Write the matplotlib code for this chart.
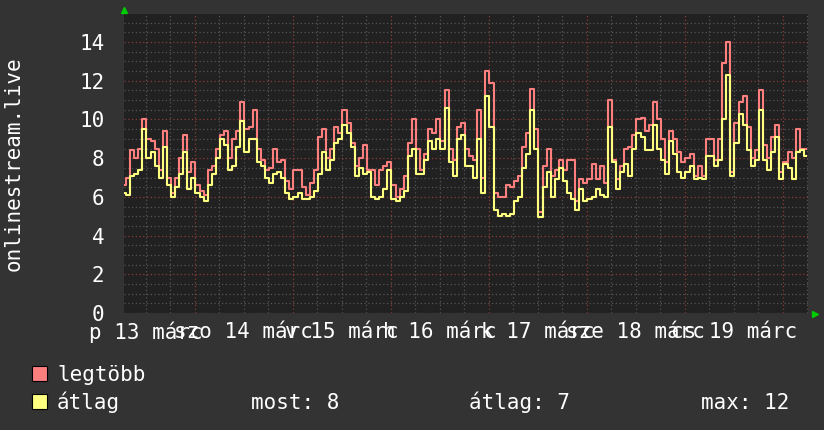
import numpy as np
import matplotlib
matplotlib.use("Agg")
import matplotlib.pyplot as plt
from matplotlib.patches import Rectangle
from matplotlib.ticker import MultipleLocator, FixedLocator

# hourly samples; time axis in days after 13 Mar 00:00
start_day = 0.278
legtobb = [6.6, 7.0, 8.4, 8.0, 8.5, 10.0, 9.0, 8.9, 8.5, 7.4, 9.4, 7.0, 6.2, 7.0, 8.0, 9.2,
           7.3, 7.8, 6.6, 6.3, 6.1, 7.4, 7.6, 8.5, 9.2, 9.4, 8.0, 9.0, 9.4, 10.9, 9.5, 9.6,
           10.5, 8.5, 7.9, 7.4, 7.5, 8.5, 7.8, 7.9, 6.8, 6.4, 7.4, 7.4, 6.5, 6.1, 6.7, 7.4,
           9.1, 9.5, 8.0, 8.5, 9.6, 9.3, 10.5, 9.8, 8.8, 7.6, 8.0, 8.7, 7.4, 7.4, 6.6, 7.4,
           7.6, 7.8, 6.6, 6.0, 6.4, 7.1, 8.8, 10.0, 8.5, 7.4, 8.2, 9.5, 9.3, 10.0, 8.9, 11.5,
           8.5, 7.9, 9.6, 9.8, 8.5, 8.1, 7.9, 10.5, 7.0, 12.5, 11.9, 6.2, 6.0, 6.0, 6.6, 6.5,
           6.8, 7.1, 8.6, 9.3, 11.6, 9.5, 5.2, 7.6, 8.5, 7.1, 7.4, 7.9, 7.4, 7.9, 7.9, 5.8,
           6.9, 6.7, 6.9, 7.7, 6.9, 7.6, 6.7, 11.0, 7.9, 6.9, 7.6, 8.5, 8.6, 9.2, 10.0, 10.1,
           9.4, 9.7, 10.9, 10.0, 9.0, 7.8, 9.4, 9.0, 8.3, 7.8, 8.0, 8.2, 7.1, 7.6, 7.1, 9.0,
           9.0, 7.9, 9.0, 12.9, 14.0, 7.3, 9.8, 10.9, 11.2, 9.6, 8.0, 8.4, 11.5, 8.7, 8.0, 9.1,
           9.7, 7.3, 7.8, 8.3, 8.0, 9.5, 8.5, 8.5]
atlag = [6.2, 6.1, 7.1, 7.2, 7.4, 9.5, 8.0, 8.3, 7.6, 7.0, 8.6, 6.6, 6.0, 6.5, 7.2, 8.3,
         6.4, 7.0, 6.2, 6.0, 5.8, 6.6, 7.2, 8.0, 9.0, 8.7, 7.4, 7.6, 8.6, 9.9, 8.3, 9.0,
         9.0, 7.8, 7.6, 7.0, 6.7, 7.2, 7.3, 7.0, 6.2, 5.9, 6.0, 6.2, 5.9, 5.9, 6.0, 6.3,
         7.2, 8.3, 7.4, 7.9, 8.8, 9.0, 9.7, 9.3, 8.6, 7.1, 7.5, 7.2, 7.3, 6.0, 5.9, 6.0,
         6.4, 7.4, 5.9, 5.8, 6.0, 6.3, 8.1, 8.5, 7.2, 7.2, 7.9, 8.9, 8.5, 9.0, 8.5, 10.6,
         7.8, 7.1, 9.0, 9.2, 7.6, 7.6, 7.0, 9.0, 6.2, 11.2, 9.6, 5.3, 5.0, 5.1, 5.0, 5.1,
         5.8, 6.0, 7.5, 8.2, 10.5, 8.5, 4.95, 6.5, 7.3, 6.0, 6.9, 7.5, 6.8, 6.2, 5.9, 5.3,
         6.4, 5.8, 5.9, 6.0, 6.4, 6.1, 6.0, 9.6, 7.8, 6.4, 7.3, 7.7, 7.1, 8.5, 9.3, 9.1,
         8.4, 8.4, 9.7, 8.5, 7.9, 7.2, 8.9, 8.2, 7.3, 7.0, 7.3, 7.6, 6.9, 7.0, 6.9, 8.1,
         8.1, 7.6, 7.9, 10.0, 12.3, 7.1, 8.8, 10.3, 9.7, 8.4, 7.6, 7.9, 10.5, 7.9, 7.4, 8.3,
         9.1, 6.9, 7.7, 7.5, 6.9, 8.3, 8.4, 8.1]
day_labels = ["p 13 márc", "szo 14 márc", "v 15 márc", "h 16 márc",
              "k 17 márc", "sze 18 márc", "cs 19 márc"]
summary = ["most: 8", "átlag: 7", "max: 12"]

BACK = "#333333"
CANVAS = "#212121"
RED = "#ff7f7f"
YEL = "#ffff80"
FONT = "DejaVu Sans Mono"

t = start_day + np.arange(len(legtobb)) / 24.0

fig = plt.figure(figsize=(8.24, 4.30), dpi=100, facecolor=BACK)
ax = fig.add_axes([124 / 824, 117 / 430, 684 / 824, 299 / 430], facecolor=CANVAS)

ax.plot(t, legtobb, drawstyle="steps-mid", color=RED, lw=1.5, zorder=3)
ax.plot(t, atlag, drawstyle="steps-mid", color=YEL, lw=1.5, zorder=4)

ax.set_xlim(start_day, t[-1] + 1 / 48.0)
ax.set_ylim(0, 15.45)

# grid like rrdtool: grey minor, red major
ax.yaxis.set_major_locator(MultipleLocator(2))
ax.yaxis.set_minor_locator(MultipleLocator(0.5))
ax.xaxis.set_major_locator(FixedLocator(np.arange(1, 8)))
ax.xaxis.set_minor_locator(MultipleLocator(0.25))
ax.grid(which="minor", color="#555555", lw=0.9, ls=(0, (1, 2)), zorder=1)
ax.grid(which="major", color="#8a3c3c", lw=0.9, ls=(0, (1, 2)), zorder=2)
ax.tick_params(which="both", length=0)
ax.set_xticklabels([])
for s in ax.spines.values():
    s.set_visible(False)

ax.set_yticks(np.arange(0, 15, 2))
ax.set_yticklabels([str(v) for v in range(0, 15, 2)], fontsize=15,
                   family=FONT, color="white")
ax.tick_params(axis="y", which="major", pad=14)

# day labels at noon (they overlap, as in the original)
for k, lab in enumerate(day_labels):
    ax.text(k + 0.5, -0.45, lab, ha="center", va="top", fontsize=15,
            family=FONT, color="white", clip_on=False)

fig.text(14 / 824, 1 - 164 / 430, "onlinestream.live", rotation=90,
         ha="center", va="center", fontsize=15, family=FONT, color="white")

# green arrows
fig.add_artist(plt.Line2D([124 / 824], [1 - 10 / 430], marker="^", ms=5,
                          color="#00cc00", transform=fig.transFigure))
fig.add_artist(plt.Line2D([815 / 824], [1 - 314 / 430], marker=">", ms=5,
                          color="#00cc00", transform=fig.transFigure))

# legend
fig.add_artist(Rectangle((32 / 824, 1 - 381 / 430), 15 / 824, 15 / 430,
                         transform=fig.transFigure, fc=RED, ec="black", lw=0.8))
fig.add_artist(Rectangle((32 / 824, 1 - 409 / 430), 15 / 824, 15 / 430,
                         transform=fig.transFigure, fc=YEL, ec="black", lw=0.8))
fig.text(57 / 824, 1 - 381 / 430, "legtöbb", va="baseline", fontsize=15,
         family=FONT, color="white")
fig.text(57 / 824, 1 - 409 / 430, "átlag", va="baseline", fontsize=15,
         family=FONT, color="white")
for xpos, s in zip([251, 469, 701], summary):
    fig.text(xpos / 824, 1 - 409 / 430, s, va="baseline", fontsize=15,
             family=FONT, color="white")

fig.savefig("out.png", dpi=100, facecolor=BACK)
